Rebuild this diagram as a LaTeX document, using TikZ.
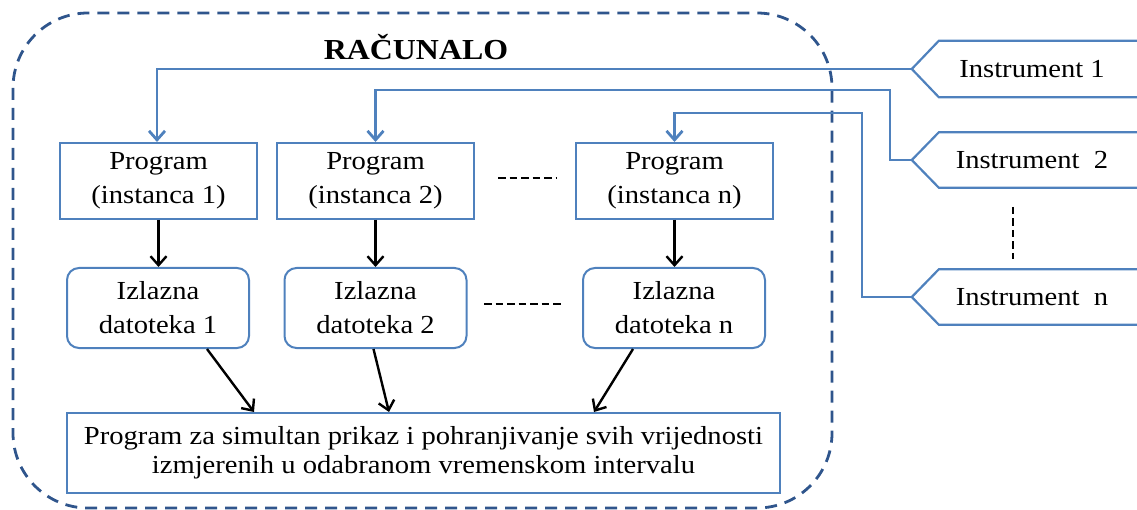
\documentclass[tikz,border=0pt]{standalone}
\usepackage{fontspec}
\setmainfont{Liberation Serif}[FakeStretch=1.1]
\usetikzlibrary{arrows.meta,calc}
\definecolor{boxblue}{RGB}{79,129,189}
\definecolor{darkblue}{RGB}{47,85,140}
\begin{document}
\begin{tikzpicture}[x=1pt,y=-1pt,
  prog/.style={draw=boxblue,line width=2pt,minimum width=197pt,minimum height=76pt,inner sep=0pt,align=center,font=\fontsize{26}{34}\selectfont},
  file/.style={prog,rounded corners=12pt,minimum width=182pt,minimum height=80pt},
  final/.style={prog,minimum width=713pt,minimum height=80pt,font=\fontsize{26}{29}\selectfont},
  instr/.style={minimum width=240pt,minimum height=56pt,inner sep=0pt,font=\fontsize{26}{30}\selectfont},
  instrline/.style={draw=boxblue,line width=2.2pt},
  feed/.style={draw=boxblue,line width=2.8pt,-{Straight Barb[length=9pt,width=16pt]}},
  flow/.style={draw=black,line width=2.4pt,-{Straight Barb[length=9pt,width=16pt]}},
  dots/.style={draw=black,line width=2.5pt,dash pattern=on 7.5pt off 4pt},
  border/.style={draw=darkblue,line width=2.8pt,dash pattern=on 12pt off 8pt,rounded corners=75pt},
  title/.style={font=\fontsize{29}{32}\selectfont\bfseries}
]
\useasboundingbox (0,0) rectangle (1137,510);

% computer boundary
\draw[border] (13,13) rectangle (832,508);
\node[title] (tit) at (416,47) {RAČUNALO};

% program instances
\node[prog] (p1) at (158.5,181) {Program\\(instanca 1)};
\node[prog] (p2) at (375.5,181) {Program\\(instanca 2)};
\node[prog] (pn) at (674.5,181) {Program\\(instanca n)};

% output files
\node[file] (f1) at (158,308) {Izlazna\\datoteka 1};
\node[file] (f2) at (375.5,308) {Izlazna\\datoteka 2};
\node[file] (fn) at (674,308) {Izlazna\\datoteka n};

% final program
\node[final] (fin) at (423.5,453) {Program za simultan prikaz i pohranjivanje svih vrijednosti\\izmjerenih u odabranom vremenskom intervalu};

% instruments
\node[instr] (i1) at (1032,69) {Instrument 1};
\node[instr,minimum height=55pt] (i2) at (1032,160) {Instrument\ \ 2};
\node[instr,minimum height=55pt] (in) at (1032,297) {Instrument\ \ n};
\foreach \n in {i1,i2,in}{
  \draw[instrline] (\n.north east) -- ($(\n.north west)+(27,0)$) -- (\n.west) -- ($(\n.south west)+(27,0)$) -- (\n.south east);
}

% dashes (ellipsis)
\coordinate (d1a) at (498,178); \coordinate (d1b) at (556,178);
\coordinate (d2a) at (484,304); \coordinate (d2b) at (563,304);
\coordinate (d3a) at (1013,207); \coordinate (d3b) at (1013,259);
\draw[dots] (d1a) -- (d1b);
\draw[dots] (d2a) -- (d2b);
\draw[dots,line width=2pt] (d3a) -- (d3b);

% instrument feeds
\coordinate (k2) at (890,90);
\coordinate (kn) at (862,113);
\draw[feed] (i1.west) -| ([xshift=-1.5pt]p1.north);
\draw[feed] (i2.west) -| (k2) -| (p2.north);
\draw[feed] (in.west) -| (kn) -| (pn.north);

% program -> files
\draw[flow] (p1.south) -- (p1.south |- f1.north);
\draw[flow] (p2.south) -- (p2.south |- f2.north);
\draw[flow] (pn.south) -- (pn.south |- fn.north);

% files -> final
\draw[flow] ($(f1.south)+(49,0)$) -- ($(fin.north west)+(188,0)$);
\draw[flow] ($(f2.south)+(-2,0)$) -- ($(fin.north west)+(323,0)$);
\draw[flow] ($(fn.south)+(-41,0)$) -- ($(fin.north west)+(528,0)$);
\end{tikzpicture}
\end{document}
